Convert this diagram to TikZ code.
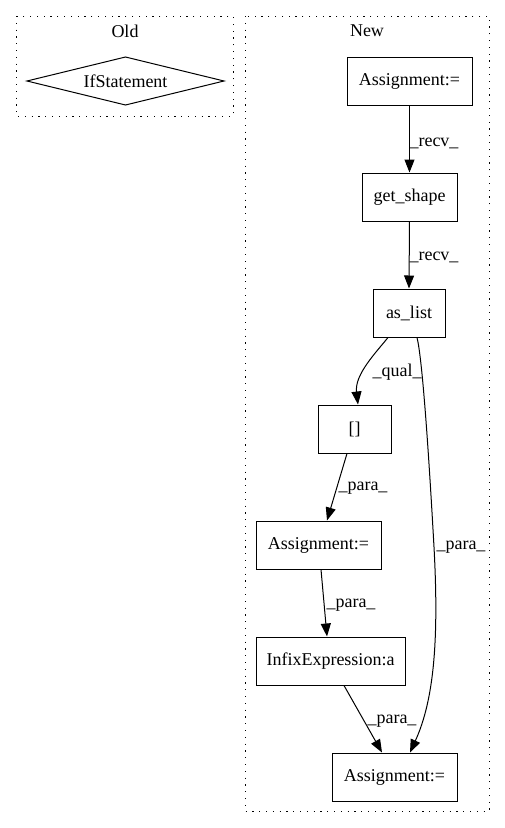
\documentclass[tikz,border=0pt]{standalone}
\usepackage{fontspec}
\setmainfont{Liberation Serif}
\usetikzlibrary{arrows.meta,calc}
\begin{document}
\begin{tikzpicture}[x=1pt,y=-1pt,
  every node/.style={font=\fontsize{18}{20}\selectfont},
  box/.style={draw, line width=1pt, rectangle, minimum height=48pt, inner sep=0pt},
  cluster/.style={draw, line width=1pt, dash pattern=on 1.2pt off 5.6pt},
  edge/.style={draw, line width=1pt, -{Triangle[length=13pt,width=10pt]}},
  lbl/.style={inner sep=0pt}
]
\useasboundingbox (0,0) rectangle (505,828);
% clusters
\draw[cluster] (16,16) rectangle (233,116);
\node (oldlbl) at (125,31) {Old};
\draw[cluster] (245,16) rectangle (489,811);
\node (newlbl) at (367,31) {New};
% Old diamond
\node (ifst) at (125.5,81) {IfStatement};
\draw[line width=1pt] ($(ifst.center)+(-98.5,0)$) -- ($(ifst.center)+(0,-24)$) -- ($(ifst.center)+(98.5,0)$) -- ($(ifst.center)+(0,24)$) -- cycle;
% New nodes
\node[box, minimum width=125pt] (a1) at (409.5,81) {Assignment:=};
\node[box, minimum width=95pt] (gs) at (409.5,197) {get\_shape};
\node[box, minimum width=72pt] (al) at (409,313) {as\_list};
\node[box, minimum width=73pt] (br) at (354.5,429) {[]};
\node[box, minimum width=125pt] (a2) at (318.5,545) {Assignment:=};
\node[box, minimum width=149pt] (ie) at (330.5,661) {InfixExpression:a};
\node[box, minimum width=125pt] (a3) at (394.5,777) {Assignment:=};
% edges
\draw[edge] (a1.south) -- (gs.north) node[lbl] at (434,143) {\_recv\_};
\draw[edge] (gs.south) -- (al.north) node[lbl] at (434,257) {\_recv\_};
\draw[edge] ($(al.south)+(-21,0)$) .. controls ($(al.south)+(-33,15)$) and ($(br.north)+(0,-30)$) .. ($(br.north)+(3.5,0)$);
\node[lbl] (lq) at (397,372) {\_qual\_};
\draw[edge] ($(br.south)+(-7.5,0)$) -- ($(a2.north)+(8.5,0)$) node[lbl] at (363,488) {\_para\_};
\draw[edge] ($(a2.south)+(2.5,0)$) -- ($(ie.north)+(-3.5,0)$) node[lbl] at (351,605) {\_para\_};
\draw[edge] ($(ie.south)+(13.5,0)$) -- ($(a3.north)+(-12.5,0)$) node[lbl] at (392,721) {\_para\_};
\draw[edge] ($(al.south)+(8,0)$) .. controls ($(al.south)+(13,20)$) and (428,440) .. (434,547) .. controls (439,640) and (434,700) .. ($(a3.north)+(15.5,0)$);
\node[lbl] (lp) at (461,547) {\_para\_};
\end{tikzpicture}
\end{document}
